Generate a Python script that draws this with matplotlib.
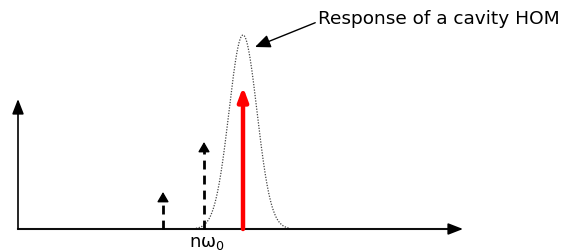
import numpy as np
import matplotlib
matplotlib.use("Agg")
import matplotlib.pyplot as plt

# data (units: pixel-like frequency / amplitude scale)
harmonic_x = [163, 204]          # dashed beam harmonics
harmonic_h = [37, 87]
resonant_x = 243                  # red harmonic on the HOM
resonant_h = 142
hom_center = 243
hom_peak = 194
hom_sigma = 14
label_text = "Response of a cavity HOM"
tick_label = r"n$\mathregular{ω_0}$"

fig = plt.figure(figsize=(5.63, 2.53), dpi=100)
ax = fig.add_axes([0, 0, 1, 1])
ax.set_xlim(0, 563)
ax.set_ylim(-23, 230)
ax.axis("off")

# axes arrows
ax.annotate("", xy=(463, 0), xytext=(18, 0),
            arrowprops=dict(arrowstyle="-|>,head_length=0.9,head_width=0.35",
                            color="black", lw=1.2, shrinkA=0, shrinkB=0))
ax.plot([18, 455], [0, 0], color="#555555", lw=1.5)
ax.annotate("", xy=(18, 130), xytext=(18, 0),
            arrowprops=dict(arrowstyle="-|>,head_length=0.9,head_width=0.35",
                            color="black", lw=1.2, shrinkA=0, shrinkB=0))

# HOM response
xg = np.linspace(hom_center - 47, hom_center + 47, 400)
yg = hom_peak * np.exp(-0.5 * ((xg - hom_center) / hom_sigma) ** 2)
ax.plot(xg, yg, color="#444444", lw=0.9, ls=(0, (1, 1.2)))

# dashed harmonics
for x, h in zip(harmonic_x, harmonic_h):
    ax.plot([x, x], [0, h - 7], color="black", lw=2, ls=(0, (3.2, 2.2)))
    ax.annotate("", xy=(x, h), xytext=(x, h - 8),
                arrowprops=dict(arrowstyle="-|>,head_length=0.6,head_width=0.35",
                                color="black", lw=1, shrinkA=0, shrinkB=0))

# red harmonic
ax.annotate("", xy=(resonant_x, resonant_h), xytext=(resonant_x, 0),
            arrowprops=dict(arrowstyle="-|>,head_length=0.8,head_width=0.3",
                            color="red", lw=3.2, shrinkA=0, shrinkB=0))

# label with arrow
ax.annotate(label_text, xy=(255, 182), xytext=(318, 211),
            fontsize=13.3, va="center", ha="left",
            arrowprops=dict(arrowstyle="-|>,head_length=0.7,head_width=0.3",
                            color="black", lw=1, shrinkA=0, shrinkB=0,
                            relpos=(0, 0.3)))

ax.text(207, -4, tick_label, fontsize=13, ha="center", va="top")

fig.savefig("out.png", dpi=100)
